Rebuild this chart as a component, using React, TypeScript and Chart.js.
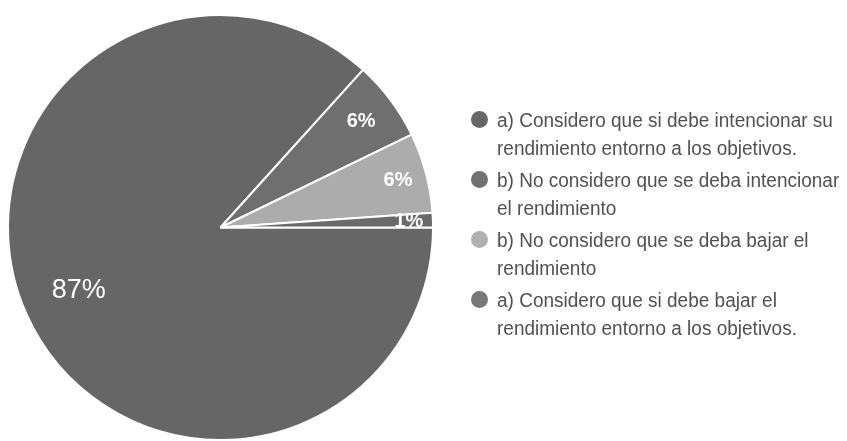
import React, { useEffect, useRef } from "react";
import { Chart, registerables } from "chart.js";

Chart.register(...registerables);

const categories = [
  "a) Considero que si debe intencionar su rendimiento entorno a los objetivos.",
  "b) No considero que se deba intencionar el rendimiento",
  "b) No considero que se deba bajar el rendimiento",
  "a) Considero que si debe bajar el rendimiento entorno a los objetivos.",
];
const legendLines = [
  ["a) Considero que si debe intencionar su", "rendimiento entorno a los objetivos."],
  ["b) No considero que se deba intencionar", "el rendimiento"],
  ["b) No considero que se deba bajar el", "rendimiento"],
  ["a) Considero que si debe bajar el", "rendimiento entorno a los objetivos."],
];
const values = [86.7, 6.1, 6.1, 1.1];
const sliceColors = ["#666666", "#6f6f6f", "#acacac", "#6a6a6a"];
const legendColors = ["#666666", "#727272", "#b0b0b0", "#787878"];

const FONT = "'Liberation Sans', Arial, sans-serif";

const sliceLabelPlugin = {
  id: "sliceLabels",
  afterDatasetsDraw(chart: any) {
    const meta = chart.getDatasetMeta(0);
    const ctx = chart.ctx;
    const total = values.reduce((a, b) => a + b, 0);
    meta.data.forEach((arc: any, i: number) => {
      const p = arc.getProps(["x", "y", "startAngle", "endAngle", "outerRadius"], true);
      const mid = (p.startAngle + p.endAngle) / 2;
      const pct = (values[i] / total) * 100;
      const text = Math.round(pct) + "%";
      const big = pct > 50;
      ctx.save();
      ctx.font = big ? `27px ${FONT}` : `bold 20px ${FONT}`;
      let midDeg = Math.abs(((mid * 180) / Math.PI) % 360);
      if (midDeg > 180) midDeg = 360 - midDeg;
      const d = big
        ? p.outerRadius * 0.73
        : p.outerRadius * (0.89 - 0.0017 * midDeg);
      ctx.fillStyle = "#ffffff";
      ctx.textAlign = "center";
      ctx.textBaseline = "middle";
      ctx.fillText(text, p.x + Math.cos(mid) * d, p.y + Math.sin(mid) * d);
      ctx.restore();
    });
  },
};

export default function App() {
  const canvasRef = useRef<HTMLCanvasElement | null>(null);

  useEffect(() => {
    if (!canvasRef.current) return;
    const chart = new Chart(canvasRef.current, {
      type: "pie",
      data: {
        labels: categories,
        datasets: [
          {
            data: values,
            backgroundColor: sliceColors,
            borderColor: "#ffffff",
            borderWidth: 2,
          },
        ],
      },
      options: {
        responsive: false,
        animation: false,
        rotation: 90,
        layout: {
          padding: { left: 7, right: 413, top: 14, bottom: 0 },
        },
        plugins: {
          legend: { display: false },
          tooltip: { enabled: false },
        },
      },
      plugins: [sliceLabelPlugin],
    });
    return () => chart.destroy();
  }, []);

  return (
    <div
      style={{
        position: "fixed",
        left: 0,
        top: 0,
        width: 847,
        height: 441,
        background: "#ffffff",
        overflow: "hidden",
      }}
    >
      <canvas
        ref={canvasRef}
        width={847}
        height={441}
        style={{ position: "absolute", left: 0, top: 0, width: 847, height: 441 }}
      />
      <div
        style={{
          position: "absolute",
          left: 471,
          top: 106,
          fontFamily: FONT,
          fontSize: 19,
          color: "#505050",
        }}
      >
        {legendLines.map((lines, i) => (
          <div
            key={i}
            style={{ display: "flex", alignItems: "flex-start", marginBottom: 8 }}
          >
            <div
              style={{
                width: 17,
                height: 17,
                borderRadius: "50%",
                background: legendColors[i],
                marginTop: 5,
                marginRight: 9,
                flexShrink: 0,
              }}
            />
            <div
              style={{
                lineHeight: "26px",
                whiteSpace: "nowrap",
                transform: "scale(1, 1.08)",
                transformOrigin: "0 0",
              }}
            >
              {lines.map((l, j) => (
                <div key={j}>{l}</div>
              ))}
            </div>
          </div>
        ))}
      </div>
    </div>
  );
}
